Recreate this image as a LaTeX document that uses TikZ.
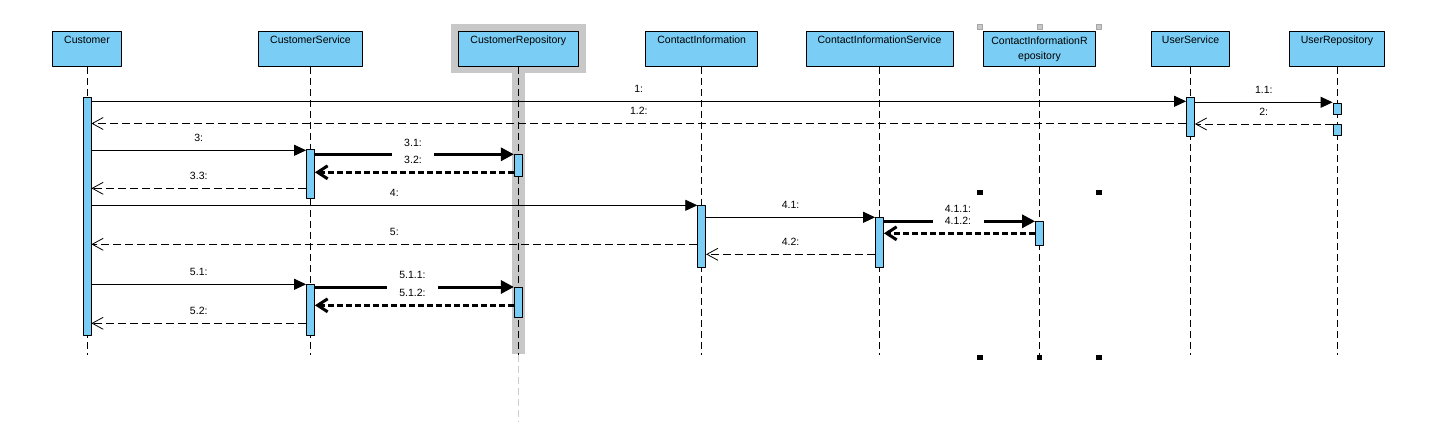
\documentclass[tikz,border=0pt]{standalone}
\usepackage{fontspec}
\setmainfont{Liberation Sans}
\usetikzlibrary{arrows.meta,positioning}
\definecolor{lifeblue}{HTML}{7ACDF4}
\definecolor{repogray}{HTML}{C8C8C8}
\tikzset{
  every picture/.style={font=\fontsize{10.5}{12}\selectfont, line join=round, >=Stealth},
  obj/.style={draw, line width=0.9pt, fill=lifeblue, anchor=north, minimum height=34.7pt, inner sep=3pt, text height=8.4pt, text depth=20.3pt},
  objtwo/.style={draw, line width=0.9pt, fill=lifeblue, anchor=north, minimum height=34.7pt, inner sep=3pt, align=center},
  life/.style={line width=0.7pt, dash pattern=on 7pt off 4pt},
  act/.style={draw, line width=0.8pt, fill=lifeblue, anchor=north, minimum width=8pt, inner sep=0pt, minimum height=#1},
  call/.style={line width=0.8pt, -{Triangle[length=12pt,width=11pt]}},
  ret/.style={line width=0.8pt, dash pattern=on 8pt off 4pt, -{Straight Barb[length=11pt,width=12pt]}},
  bigcall/.style={line width=3pt, -{Triangle[length=13pt,width=13pt]}},
  bigret/.style={line width=3pt, dash pattern=on 6pt off 3pt, -{Straight Barb[length=10pt,width=13pt]}},
  lbl/.style={inner sep=2pt},
  gap/.style={inner sep=1pt, anchor=base, fill=white},
}
\begin{document}
\begin{tikzpicture}[x=1pt,y=-1pt]
\useasboundingbox (0,0) rectangle (1435,422);
% selected repository: grey shadow and band
\fill[repogray] (451,24) rectangle (586,72.7);
\fill[repogray] (511.5,72) rectangle (525,354.3);
\draw[life, draw=repogray!90!white] (518.3,355) -- (518.3,422);

% lifeline heads
\node[obj, minimum width=69pt] (cust) at (87,31.3) {Customer};
\node[obj, minimum width=104pt] (custSvc) at (310.5,31.3) {CustomerService};
\node[obj, minimum width=120pt] (custRepo) at (518.3,31.3) {CustomerRepository};
\node[obj, minimum width=112pt] (contact) at (701.7,31.3) {ContactInformation};
\node[obj, minimum width=147pt] (contactSvc) at (879.5,31.3) {ContactInformationService};
\node[objtwo, minimum width=112pt] (contactRepo) at (1039.5,31.3) {ContactInformationR\\[3pt]epository};
\node[obj, minimum width=78pt] (userSvc) at (1190.5,31.3) {UserService};
\node[obj, minimum width=95pt] (userRepo) at (1337,31.3) {UserRepository};

\foreach \o in {cust,custSvc,custRepo,contact,contactSvc,contactRepo,userSvc,userRepo}
  \draw[life] (\o.south) -- (\o.south |- 0,355);

% activations
\node[act=238pt] (aCust) at (87,97.3) {};
\node[act=38.7pt] (aUS) at (1190.5,97.3) {};
\node[act=11.6pt] (aUR1) at (1337,102.7) {};
\node[act=11pt] (aUR2) at (1337,124.3) {};
\node[act=49.6pt] (aCS1) at (310.5,148.7) {};
\node[act=51pt] (aCS2) at (310.5,284.3) {};
\node[act=22pt] (aCR1) at (518.3,154.3) {};
\node[act=30pt] (aCR2) at (518.3,287.3) {};
\node[act=61.4pt] (aCI) at (701.7,205.3) {};
\node[act=49.4pt] (aCIS) at (879.5,217.3) {};
\node[act=24pt] (aCIR) at (1039.5,221.3) {};

% messages
\draw[call] (aCust.east |- 0,101.3) -- node[lbl, above=6.4pt] (m1) {1:} (aUS.west |- 0,101.3);
\draw[call] (aUS.east |- 0,102.3) -- node[lbl, above=6.4pt] (m11) {1.1:} (aUR1.west |- 0,102.3);
\draw[ret] (aUR2.west |- 0,124) -- node[lbl, above=6.4pt] (m2) {2:} (aUS.east |- 0,124);
\draw[ret] (aUS.west |- 0,123.5) -- node[lbl, above=6.4pt] (m12) {1.2:} (aCust.east |- 0,123.5);
\draw[call] (aCust.east |- 0,150.3) -- node[lbl, above=6.4pt] (m3) {3:} (aCS1.west |- 0,150.3);
\draw[bigcall] (aCS1.east |- 0,154.3) -- (aCR1.west |- 0,154.3);
\draw[bigret] (aCR1.west |- 0,172.3) -- (aCS1.east |- 0,172.3);
\draw[ret] (aCS1.west |- 0,188.3) -- node[lbl, above=6.4pt] (m33) {3.3:} (aCust.east |- 0,188.3);
\draw[call] (aCust.east |- 0,205.3) -- node[lbl, above=6.4pt] (m4) {4:} (aCI.west |- 0,205.3);
\draw[call] (aCI.east |- 0,217.3) -- node[lbl, above=6.4pt] (m41) {4.1:} (aCIS.west |- 0,217.3);
\draw[bigcall] (aCIS.east |- 0,221.3) -- (aCIR.west |- 0,221.3);
\draw[bigret] (aCIR.west |- 0,233.3) -- (aCIS.east |- 0,233.3);
\draw[ret] (aCI.west |- 0,244.3) -- node[lbl, above=6.4pt] (m5) {5:} (aCust.east |- 0,244.3);
\draw[ret] (aCIS.west |- 0,254.3) -- node[lbl, above=6.4pt] (m42) {4.2:} (aCI.east |- 0,254.3);
\draw[call] (aCust.east |- 0,284.3) -- node[lbl, above=6.4pt] (m51) {5.1:} (aCS2.west |- 0,284.3);
\draw[bigcall] (aCS2.east |- 0,287) -- (aCR2.west |- 0,287);
\draw[bigret] (aCR2.west |- 0,305.3) -- (aCS2.east |- 0,305.3);
\draw[ret] (aCS2.west |- 0,323.3) -- node[lbl, above=6.4pt] (m52) {5.2:} (aCust.east |- 0,323.3);

% labels of the bold pairs
\node[gap, minimum width=42pt, text height=12pt] (m32) at (413,164) {3.2:};
\node[lbl, anchor=base] (m31) at (413,146.6) {3.1:};
\node[gap, minimum width=51pt, text height=9pt] (m412) at (958,224.9) {4.1.2:};
\node[lbl, anchor=base] (m411) at (958,212.9) {4.1.1:};
\node[gap, minimum width=51pt, text height=12pt] (m512) at (412.5,296.9) {5.1.2:};
\node[lbl, anchor=base] (m511) at (412.5,278.6) {5.1.1:};

% selection handles
\foreach \x in {979.3,1039.3,1099}
  \filldraw[fill=repogray, draw=gray!70, line width=0.5pt] (\x-2.5,24.2) rectangle (\x+2.5,29.2);
\foreach \x/\y in {980/192.7,1099/192.7,980/357.3,1039.3/357.3,1099/357.3}
  \fill (\x-2.8,\y-2.8) rectangle (\x+2.8,\y+2.8);
\end{tikzpicture}
\end{document}
